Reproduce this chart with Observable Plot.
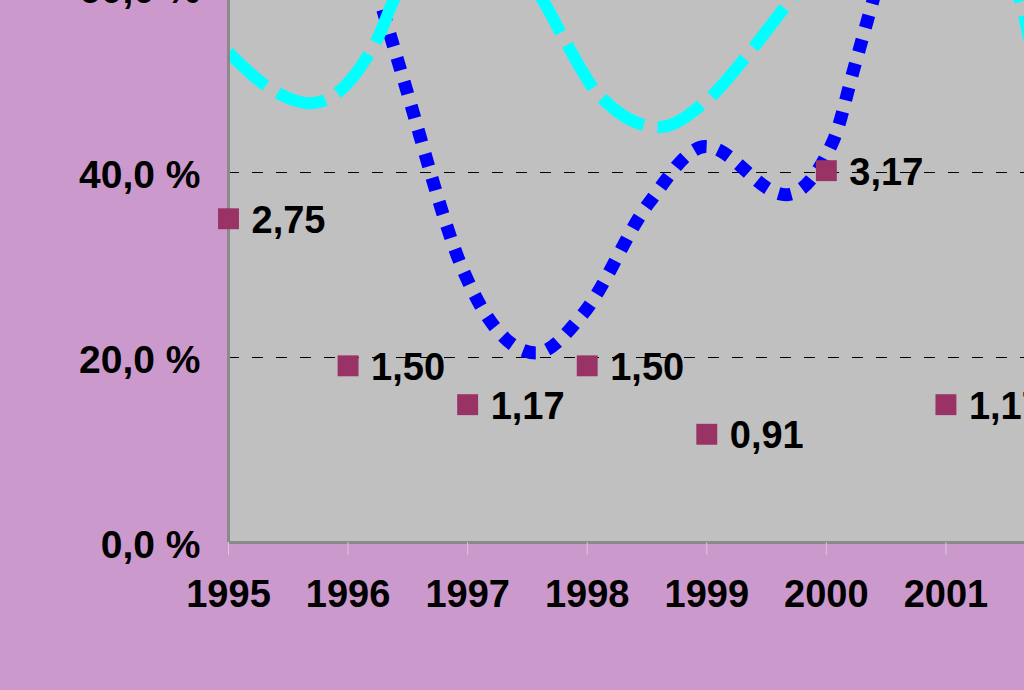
<!DOCTYPE html>
<html><head><meta charset="utf-8">
<script src="https://cdn.jsdelivr.net/npm/d3@7"></script>
<script src="https://cdn.jsdelivr.net/npm/@observablehq/plot@0.6"></script>
<style>
html,body{margin:0;padding:0;background:#CC99CC;overflow:hidden;}
#wrap{position:relative;width:1024px;height:690px;overflow:hidden;background:#CC99CC;}
#chart{position:absolute;left:0;top:-40px;}
</style></head><body><div id="wrap"><div id="chart"></div></div>
<script>
// Point series (markers with value labels)
const years = [1995, 1996, 1997, 1998, 1999, 2000, 2001];
const ratioPct = [35.0, 19.1, 14.9, 19.1, 11.7, 40.2, 14.9];
const ratioLabels = ["2,75", "1,50", "1,17", "1,50", "0,91", "3,17", "1,17"];

// Axis ticks
const xTicks = [1995, 1996, 1997, 1998, 1999, 2000, 2001, 2002];
const yTicks = [0, 20, 40, 60];

// Blue dotted smoothed series
const blueYears  = [1995.0, 1995.5, 1996.2, 1996.46, 1996.97, 1997.17, 1997.57, 1997.97, 1998.51, 1998.99, 1999.66, 2000.06, 2000.23, 2000.39, 2001.0, 2002.0];
const blueValues = [100, 90, 61.5, 50.2, 29.2, 24.3, 20.5, 24.8, 36.6, 42.8, 37.6, 43.5, 51.2, 58.6, 85, 95];

// Cyan dashed smoothed series
const cyanYears  = [1995.0, 1995.29, 1995.69, 1996.25, 1996.38, 1997.0, 1997.63, 1997.8, 1998.09, 1998.6, 1999.0, 1999.39, 1999.7, 2000.6, 2001.3, 2001.62, 2001.9];
const cyanValues = [53.0, 49.6, 47.5, 54.6, 58.6, 67, 58.6, 54.6, 48.5, 44.9, 47.8, 53.5, 58.6, 68, 66, 58.6, 40];

const points = years.map((y, i) => ({year: y, pct: ratioPct[i], label: ratioLabels[i]}));
const blue = blueYears.map((y, i) => ({year: y, pct: blueValues[i]}));
const cyan = cyanYears.map((y, i) => ({year: y, pct: cyanValues[i]}));

const fmtPct = d => d.toFixed(1).replace(".", ",") + " %";
const font = "'Liberation Sans', Arial, sans-serif";

const chart = Plot.plot({
  width: 1105,
  height: 730,
  marginLeft: 228,
  marginRight: 40,
  marginTop: 27,
  marginBottom: 148,
  style: {background: "transparent", maxWidth: "none", fontFamily: font, color: "black", overflow: "visible"},
  x: {type: "linear", domain: [1995, 2002], ticks: xTicks},
  y: {domain: [0, 60], ticks: yTicks},
  marks: [
    Plot.frame({fill: "#C0C0C0", stroke: "none"}),
    Plot.ruleY(yTicks.filter(d => d > 0), {stroke: "black", strokeWidth: 1, strokeDasharray: "11,13"}),
    Plot.line(blue, {x: "year", y: "pct", curve: "monotone-x", stroke: "#0000FF", strokeWidth: 13, strokeDasharray: "13,12", strokeLinecap: "butt", clip: true}),
    Plot.line(cyan, {x: "year", y: "pct", curve: "monotone-x", stroke: "#00FFFF", strokeWidth: 12, strokeDasharray: "50,14", strokeLinecap: "butt", clip: true}),
    Plot.ruleX([xTicks[0]], {stroke: "#8a8a8a", strokeWidth: 3}),
    Plot.ruleY([yTicks[0]], {stroke: "#8a8a8a", strokeWidth: 3}),
    Plot.dot(points, {x: "year", y: "pct", symbol: "square", r: 11.8, fill: "#993366", stroke: "none"}),
    Plot.text(points, {x: "year", y: "pct", text: "label", textAnchor: "start", dx: 23, dy: 2, fontSize: 38, fontWeight: "bold", fill: "black"}),
    Plot.axisX({ticks: xTicks, tickFormat: d => String(d), tickSize: 13, tickPadding: 25, stroke: "#dcc6dc", fill: "black", fontSize: 38, fontWeight: "bold", label: null}),
    Plot.axisY({ticks: yTicks, tickFormat: fmtPct, tickSize: 0, tickPadding: 28, dy: 3, fill: "black", fontSize: 39, fontWeight: "bold", label: null})
  ]
});
document.getElementById("chart").appendChild(chart);
</script></body></html>
